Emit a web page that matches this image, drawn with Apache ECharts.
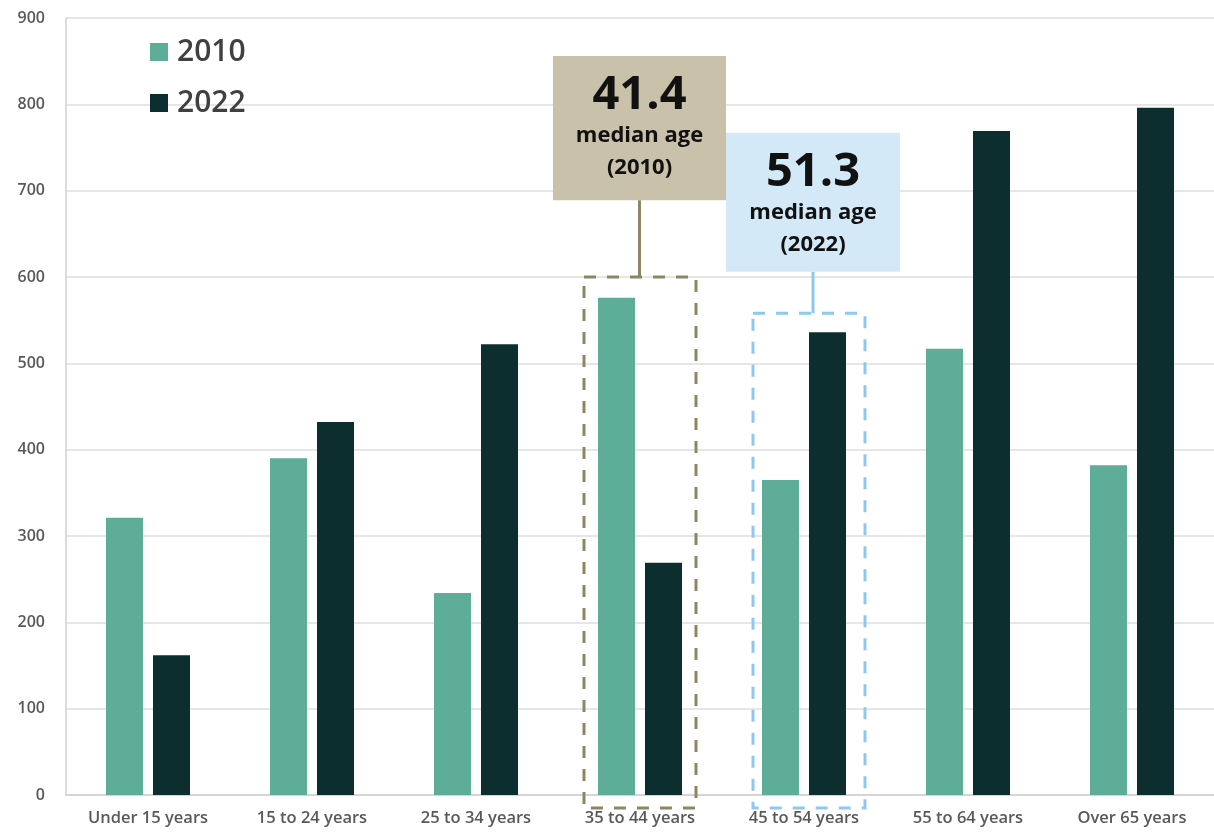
<!DOCTYPE html>
<html>
<head>
<meta charset="utf-8">
<script src="https://cdn.jsdelivr.net/npm/echarts@6/dist/echarts.min.js"></script>
<style>
  html, body { margin: 0; padding: 0; background: #ffffff; }
  #chart { width: 1214px; height: 836px; }
</style>
</head>
<body>
<div id="chart"></div>
<script>
// Age groups on the category axis
const categories = ['Under 15 years', '15 to 24 years', '25 to 34 years', '35 to 44 years',
                    '45 to 54 years', '55 to 64 years', 'Over 65 years'];
// Population counts per age group
const values2010 = [321, 390, 234, 576, 365, 517, 382];
const values2022 = [162, 432, 522, 269, 536, 769, 796];
const seriesNames = ['2010', '2022'];
const yTicks = { min: 0, max: 900, interval: 100 };

// Median-age callouts: which group they frame and what they say
const callouts = [
  { category: '35 to 44 years', value: '41.4', caption: 'median age', year: '(2010)' },
  { category: '45 to 54 years', value: '51.3', caption: 'median age', year: '(2022)' }
];

const FONT = '"Open Sans", "Noto Sans", sans-serif';
const chart = echarts.init(document.getElementById('chart'));

chart.setOption({
  animation: false,
  backgroundColor: '#ffffff',
  grid: { left: 66, right: 0, top: 18, bottom: 41 },
  legend: {
    data: seriesNames,
    orient: 'vertical',
    left: 145,
    top: 32,
    itemWidth: 18,
    itemHeight: 18,
    itemGap: 21,
    icon: 'rect',
    textStyle: { fontFamily: FONT, fontSize: 30, fontWeight: 600, color: '#404040', padding: [0, 0, 0, 4] }
  },
  xAxis: {
    type: 'category',
    data: categories,
    axisLine: { lineStyle: { color: '#cfcfcf', width: 1.5 } },
    axisTick: { show: false },
    axisLabel: { fontFamily: FONT, fontSize: 16.5, fontWeight: 600, color: '#595959', margin: 15, interval: 0 }
  },
  yAxis: {
    type: 'value',
    min: yTicks.min, max: yTicks.max, interval: yTicks.interval,
    axisLine: { show: true, lineStyle: { color: '#cfcfcf', width: 1.5 } },
    axisTick: { show: false },
    splitLine: { lineStyle: { color: '#dedede', width: 1.5 } },
    axisLabel: { fontFamily: FONT, fontSize: 16, fontWeight: 600, color: '#595959', margin: 21 }
  },
  series: [
    {
      name: seriesNames[0], type: 'bar', data: values2010,
      barWidth: 37, barGap: '27%',
      itemStyle: { color: '#5dad98' }
    },
    {
      name: seriesNames[1], type: 'bar', data: values2022,
      barWidth: 37,
      itemStyle: { color: '#0c2e2e' }
    }
  ]
});

// Place the callouts from the axes' own scales
function px(cat, val) { return chart.convertToPixel({ gridIndex: 0 }, [cat, val]); }

const styles = [
  { fill: '#c9c1a9', border: '#8c8763', frameTop: 600, boxTop: 856, boxBottom: 689,
    frameOff: 0, boxLeftOff: -87, boxRightOff: 86 },
  { fill: '#d4e9f7', border: '#8fc8ec', frameTop: 558, boxTop: 767, boxBottom: 606,
    frameOff: 5, boxLeftOff: -78, boxRightOff: 96 }
];

const elements = [];
callouts.forEach((c, i) => {
  const s = styles[i];
  const top = px(c.category, s.frameTop);
  const bottom = px(c.category, -15);
  const bTop = px(c.category, s.boxTop);
  const bBot = px(c.category, s.boxBottom);
  const cx = top[0];
  const half = 56;
  // dashed frame around the age group
  elements.push({
    type: 'rect', z: 10,
    shape: { x: cx + s.frameOff - half, y: top[1], width: half * 2, height: bottom[1] - top[1] },
    style: { fill: 'transparent', stroke: s.border, lineWidth: 3, lineDash: [12, 11] }
  });
  const boxL = cx + s.boxLeftOff, boxR = cx + s.boxRightOff;
  const boxCx = (boxL + boxR) / 2;
  // connector from box to frame
  elements.push({
    type: 'line', z: 9,
    shape: { x1: boxCx, y1: bBot[1], x2: boxCx, y2: top[1] },
    style: { stroke: s.border, lineWidth: 3 }
  });
  // filled label box
  elements.push({
    type: 'rect', z: 11,
    shape: { x: boxL, y: bTop[1], width: boxR - boxL, height: bBot[1] - bTop[1] },
    style: { fill: s.fill }
  });
  elements.push({
    type: 'text', z: 12,
    style: {
      x: boxCx, y: bTop[1] + 40, text: c.value, textAlign: 'center', textVerticalAlign: 'middle',
      font: 'bold 47px ' + FONT, fill: '#111111'
    }
  });
  elements.push({
    type: 'text', z: 12,
    style: {
      x: boxCx, y: bTop[1] + 80, text: c.caption, textAlign: 'center', textVerticalAlign: 'middle',
      font: 'bold 22px ' + FONT, fill: '#111111'
    }
  });
  elements.push({
    type: 'text', z: 12,
    style: {
      x: boxCx, y: bTop[1] + 112, text: c.year, textAlign: 'center', textVerticalAlign: 'middle',
      font: 'bold 22px ' + FONT, fill: '#111111'
    }
  });
});

chart.setOption({ graphic: { elements: elements } });
</script>
</body>
</html>
